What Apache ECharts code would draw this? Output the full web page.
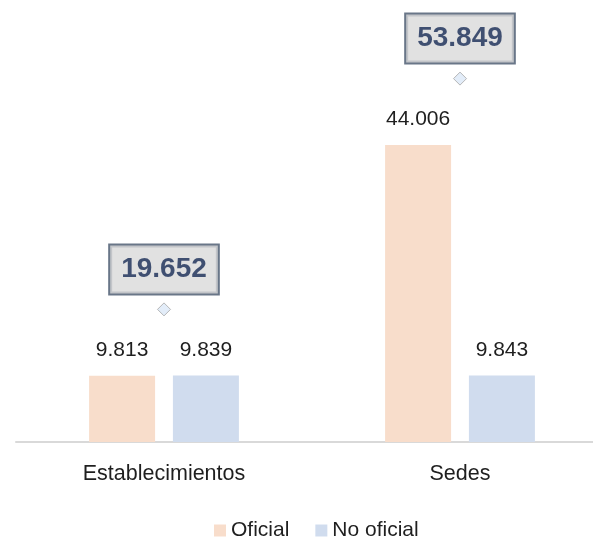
<!DOCTYPE html>
<html>
<head>
<meta charset="utf-8">
<script src="https://cdn.jsdelivr.net/npm/echarts@6/dist/echarts.min.js"></script>
<style>
  html, body { margin: 0; padding: 0; background: #FFFFFF; }
  #chart { width: 593px; height: 542px; }
</style>
</head>
<body>
<div id="chart"></div>
<script>
const categories = ['Establecimientos', 'Sedes'];
const oficial = [9813, 44006];
const noOficial = [9839, 9843];
const totales = [19652, 53849];

const FONT = "'Liberation Sans', Arial, sans-serif";

// separador de miles con punto
function fmt(v) {
  return String(v).replace(/\B(?=(\d{3})+(?!\d))/g, '.');
}

const myChart = echarts.init(document.getElementById('chart'));

const option = {
  backgroundColor: '#FFFFFF',
  animation: false,
  textStyle: { fontFamily: FONT },
  legend: {
    data: ['Oficial', 'No oficial'],
    top: 515,
    left: 209,
    icon: 'rect',
    itemWidth: 12,
    itemHeight: 12,
    itemGap: 26,
    textStyle: { fontSize: 21, color: '#1F1F1F', fontFamily: FONT }
  },
  grid: { left: 16, width: 592, top: 0, bottom: 100, outerBoundsMode: 'none' },
  xAxis: {
    type: 'category',
    data: categories,
    axisLine: { lineStyle: { color: '#D9D9D9', width: 2 } },
    axisTick: { show: false },
    axisLabel: { fontSize: 21.5, color: '#1F1F1F', margin: 21, fontFamily: FONT }
  },
  yAxis: {
    type: 'value',
    min: 0,
    max: 65500,
    show: false,
    splitLine: { show: false }
  },
  series: [
    {
      name: 'Oficial',
      type: 'bar',
      data: oficial,
      barWidth: 66,
      barGap: '27%',
      itemStyle: { color: '#F8DDCB' },
      label: {
        show: true, position: 'top', distance: 15,
        fontSize: 21, color: '#1F1F1F', fontFamily: FONT,
        formatter: p => fmt(p.value)
      }
    },
    {
      name: 'No oficial',
      type: 'bar',
      data: noOficial,
      barWidth: 66,
      itemStyle: { color: '#D0DCEE' },
      label: {
        show: true, position: 'top', distance: 15,
        fontSize: 21, color: '#1F1F1F', fontFamily: FONT,
        formatter: p => fmt(p.value)
      }
    },
    {
      name: 'Total',
      type: 'scatter',
      data: totales,
      symbol: 'diamond',
      symbolSize: 13,
      itemStyle: { color: '#DCE8F7', borderColor: '#A6A6A6', borderWidth: 1 },
      label: {
        show: true, position: 'top', distance: 9,
        fontSize: 28, fontWeight: 'bold', color: '#172B55', fontFamily: FONT,
        lineHeight: 30,
        backgroundColor: '#D9D9D9',
        borderColor: '#44546A', borderWidth: 2,
        padding: [9, 11, 9, 11],
        formatter: p => fmt(p.value)
      }
    }
  ]
};
myChart.setOption(option);
</script>
</body>
</html>
